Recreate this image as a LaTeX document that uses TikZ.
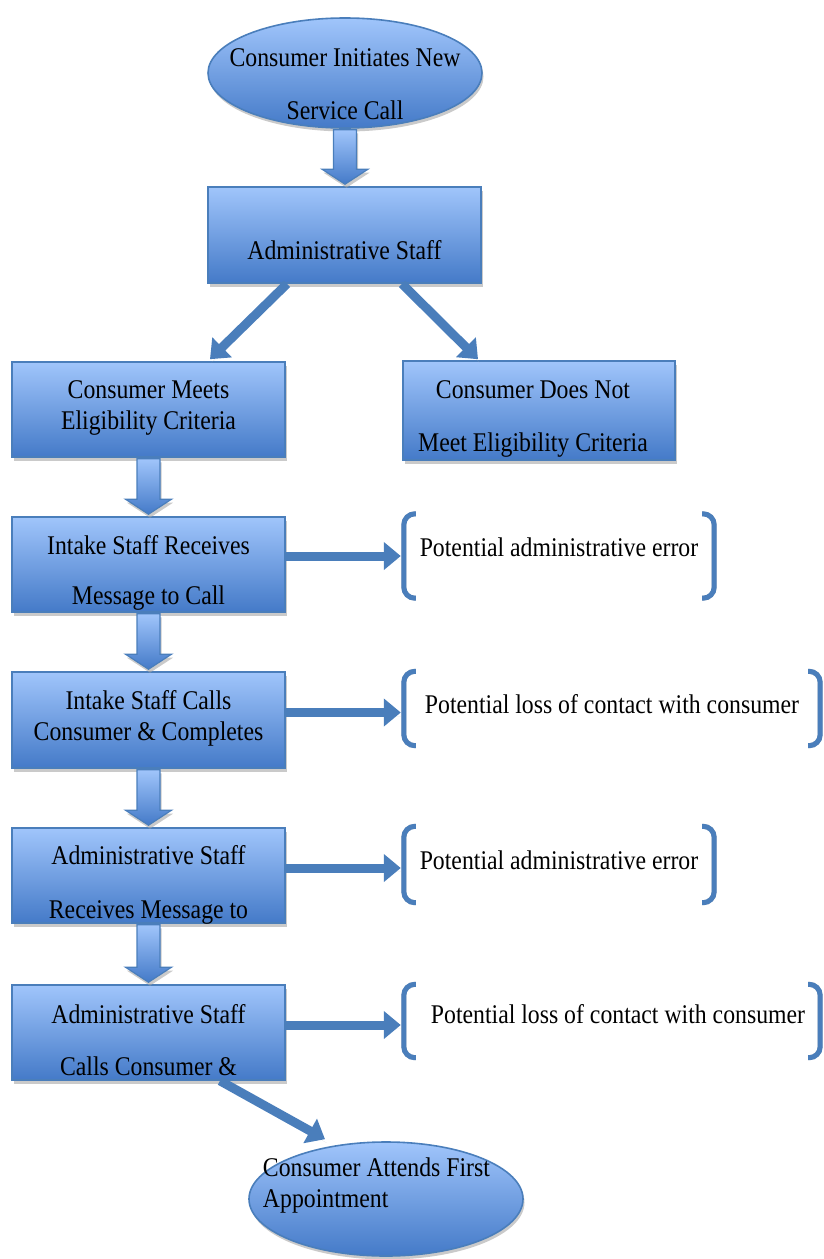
\documentclass[tikz,border=0pt]{standalone}
\usepackage{fontspec}
\setmainfont{Liberation Serif}[FakeStretch=0.88]
\usetikzlibrary{arrows.meta,shadows,calc,shapes.geometric}
\definecolor{topc}{RGB}{160,197,251}
\definecolor{botc}{RGB}{68,122,200}
\definecolor{edgec}{RGB}{74,126,187}
\begin{document}
\begin{tikzpicture}[x=1pt,y=-1pt,
  shd/.style={drop shadow={shadow xshift=1.5pt,shadow yshift=-3.5pt,fill=black!35,opacity=0.6}},
  boxn/.style={rectangle,draw=edgec,line width=1.6pt,top color=topc,bottom color=botc,shd,inner sep=0pt,minimum width=273pt},
  ovaln/.style={ellipse,draw=edgec,line width=1.6pt,top color=topc,bottom color=botc,shd,inner sep=0pt},
  txt/.style={font=\fontsize{27}{31}\selectfont,align=center,text=black,inner sep=0pt},
  zone/.style={rectangle,inner sep=0pt},
  harrow/.style={draw=edgec,line width=9pt,-{Triangle[length=17pt,width=27pt]},shd},
  barrow/.style={draw=edgec,line width=1.2pt,top color=topc,bottom color=botc,shd},
  brk/.style={draw=edgec,line width=5pt,rounded corners=11pt},
  brkshd/.style={draw=black!22,line width=5pt,rounded corners=11pt,xshift=1.5pt,yshift=-3pt},
]
\useasboundingbox (0,0) rectangle (824,1259);

% main flow shapes
\node[ovaln,minimum width=274pt,minimum height=110pt,
  label={[txt,yshift=-11.5pt]center:{Consumer Initiates New\\[22pt]Service Call}}] (e1) at (345,73) {};
\node[boxn,minimum height=96pt,
  label={[txt,yshift=-15pt]center:{Administrative Staff}}] (a) at (344.5,235) {};
\node[boxn,minimum height=95pt,
  label={[txt,yshift=2pt]center:{Consumer Meets\\Eligibility Criteria}}] (m) at (148.5,409.5) {};
\node[boxn,minimum width=272pt,minimum height=99pt,
  label={[txt,xshift=-6pt,yshift=-8pt]center:{Consumer Does Not\\[22pt]Meet Eligibility Criteria}}] (n) at (539,410.5) {};
\node[boxn,minimum height=95pt,
  label={[txt,yshift=-8.5pt]center:{Intake Staff Receives\\[19pt]Message to Call}}] (i1) at (148.5,564.5) {};
\node[boxn,minimum height=96pt,
  label={[txt,yshift=2pt]center:{Intake Staff Calls\\Consumer \& Completes}}] (i2) at (148.5,720) {};
\node[boxn,minimum height=95pt,
  label={[txt,yshift=-9.5pt]center:{Administrative Staff\\[23pt]Receives Message to}}] (r1) at (148.5,875.5) {};
\node[boxn,minimum height=95pt,
  label={[txt,yshift=-7.5pt]center:{Administrative Staff\\[21pt]Calls Consumer \&}}] (r2) at (148.5,1032.5) {};
\node[ovaln,minimum width=274pt,minimum height=114pt,
  label={[txt,align=left,xshift=-9.5pt,yshift=13.5pt]center:{Consumer Attends First\\Appointment}}] (e2) at (386,1199) {};

% risk zones
\node[zone,minimum width=310pt,minimum height=84pt,
  label={[txt,yshift=9pt]center:{Potential administrative error}}] (p1) at (559,556) {};
\node[zone,minimum width=416pt,minimum height=74pt,
  label={[txt,yshift=4.5pt]center:{Potential loss of contact with consumer}}] (p2) at (612,708.5) {};
\node[zone,minimum width=310pt,minimum height=76pt,
  label={[txt,yshift=4.5pt]center:{Potential administrative error}}] (p3) at (559,864.5) {};
\node[zone,minimum width=416pt,minimum height=73pt,
  label={[txt,xshift=6pt,yshift=7pt]center:{Potential loss of contact with consumer}}] (p4) at (612,1021) {};

\foreach \p in {p1,p2,p3,p4}{
  \foreach \st in {brkshd,brk}{
    \draw[\st] ([xshift=12pt]\p.north west) -- (\p.north west) -- (\p.south west) -- ([xshift=12pt]\p.south west);
    \draw[\st] ([xshift=-12pt]\p.north east) -- (\p.north east) -- (\p.south east) -- ([xshift=-12pt]\p.south east);
  }
}

% block arrows
\foreach \s/\t in {e1/a,m/i1,i1/i2,i2/r1,r1/r2}{
  \path[barrow] let \p1=(\s.south), \p2=(\t.north) in
    (\x1-11.5,\y1-1) -- (\x1+11.5,\y1-1) -- (\x1+11.5,\y2+17) -- (\x1+23,\y2+17)
    -- (\x1,\y2+2) -- (\x1-23,\y2+17) -- (\x1-11.5,\y2+17) -- cycle;
}

% line arrows
\draw[harrow] ([xshift=-57.5pt]a.south) -- ([xshift=61.5pt,yshift=2pt]m.north);
\draw[harrow] ([xshift=57.5pt]a.south) -- ([xshift=-61pt,yshift=1pt]n.north);
\draw[harrow] (i1.east |- p1.west) -- ([xshift=-3pt]p1.west);
\draw[harrow] ([yshift=-4pt]i2.east |- p2.west) -- ([xshift=-3pt,yshift=-4pt]p2.west);
\draw[harrow] ([yshift=-3.5pt]r1.east |- p3.west) -- ([xshift=-3pt,yshift=-3.5pt]p3.west);
\draw[harrow] ([yshift=-4pt]r2.east |- p4.west) -- ([xshift=-3pt,yshift=-4pt]p4.west);
\draw[harrow] ([xshift=71.5pt]r2.south) -- ([xshift=-61pt,yshift=2pt]e2.north);
\end{tikzpicture}
\end{document}
